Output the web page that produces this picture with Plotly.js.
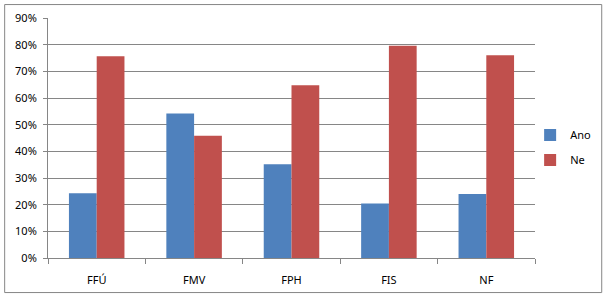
<!DOCTYPE html>
<html>
<head>
<meta charset="utf-8">
<script src="https://cdn.plot.ly/plotly-3.0.1.min.js"></script>
<style>
html,body{margin:0;padding:0;background:#fff;}
#chart{width:608px;height:297px;}
</style>
</head>
<body>
<div id="chart"></div>
<script>
const categories = ["FFÚ", "FMV", "FPH", "FIS", "NF"];
const anoValues = [0.243, 0.542, 0.352, 0.204, 0.240];
const neValues = [0.757, 0.458, 0.648, 0.796, 0.760];
const yTickVals = [0, 0.1, 0.2, 0.3, 0.4, 0.5, 0.6, 0.7, 0.8, 0.9];
const yTickText = ["0%", "10%", "20%", "30%", "40%", "50%", "60%", "70%", "80%", "90%"];

const traces = [
  {type: "bar", name: "Ano", legendgroup: "a", x: categories, y: anoValues, marker: {color: "#4F81BD"}, hoverinfo: "none"},
  {type: "bar", name: "Ne", legendgroup: "b", x: categories, y: neValues, marker: {color: "#C0504D"}, hoverinfo: "none"}
];

const layout = {
  width: 608, height: 297,
  margin: {l: 48, r: 71, t: 18, b: 39},
  paper_bgcolor: "#ffffff", plot_bgcolor: "#ffffff",
  font: {family: "Noto Sans, Liberation Sans, sans-serif", size: 11, color: "#000"},
  barmode: "group", bargap: 0.43, bargroupgap: 0,
  showlegend: true,
  legend: {x: 0.99, y: 0.46, xanchor: "left", yanchor: "middle", font: {size: 11}, itemwidth: 30, tracegroupgap: 6, traceorder: "grouped", bgcolor: "rgba(0,0,0,0)"},
  xaxis: {
    showline: true, linecolor: "#868686", linewidth: 1,
    ticks: "outside", tickson: "boundaries", ticklen: 5, tickcolor: "#868686",
    showgrid: false, tickfont: {size: 11}, ticklabelstandoff: 12
  },
  yaxis: {
    range: [0, 0.9], tickvals: yTickVals, ticktext: yTickText,
    showline: true, linecolor: "#868686", linewidth: 1,
    ticks: "outside", ticklen: 4, tickcolor: "#868686",
    showgrid: true, gridcolor: "#868686", gridwidth: 1,
    zeroline: false, tickfont: {size: 11}, fixedrange: true, ticklabelstandoff: 4
  },
  shapes: [{
    type: "rect", xref: "paper", yref: "paper",
    x0: -0.089, x1: 1.137, y0: -0.144, y1: 1.056,
    line: {color: "#868686", width: 1}, fillcolor: "rgba(0,0,0,0)", layer: "below"
  }]
};

Plotly.newPlot("chart", traces, layout, {displayModeBar: false, staticPlot: true});
</script>
</body>
</html>
